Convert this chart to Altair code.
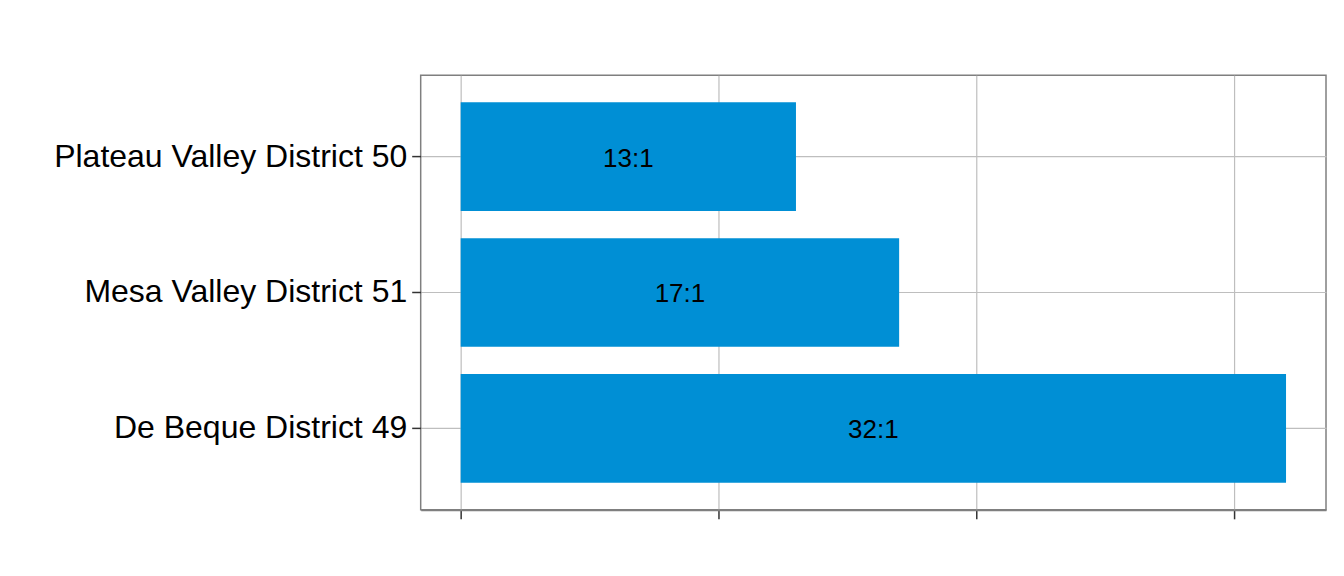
import altair as alt
import pandas as pd

districts = ["Plateau Valley District 50", "Mesa Valley District 51", "De Beque District 49"]
ratios = [13, 17, 32]
labels = ["13:1", "17:1", "32:1"]

df = pd.DataFrame({"district": districts, "ratio": ratios, "label": labels})
df["mid"] = df["ratio"] / 2

y_enc = alt.Y("district:N", sort=districts, title=None,
              scale=alt.Scale(paddingInner=0.2, paddingOuter=0.2),
              axis=alt.Axis(labelFontSize=32, labelColor="black", labelFont="Liberation Sans",
                            labelLimit=0, tickColor="#333333", tickWidth=1.5, tickSize=9,
                            labelPadding=5, domain=False, gridColor="#bebebe",
                            gridWidth=1.2, grid=True))
x_scale = alt.Scale(domain=[-1.55, 33.55], nice=False, zero=False)

bars = alt.Chart(df).mark_bar(color="#008FD5").encode(
    x=alt.X("ratio:Q", scale=x_scale, title=None,
            axis=alt.Axis(values=[0, 10, 20, 30], labels=False, tickColor="#333333",
                          tickWidth=1.5, tickSize=9, domainColor="#7f7f7f", domainWidth=2,
                          gridColor="#bebebe", gridWidth=1.2)),
    x2=alt.datum(0),
    y=y_enc,
)

text = alt.Chart(df).mark_text(fontSize=26, font="Liberation Sans", color="black",
                               baseline="middle", align="center", dy=2).encode(
    x=alt.X("mid:Q", scale=x_scale),
    y=alt.Y("district:N", sort=districts),
    text="label:N",
)

chart = (bars + text).properties(
    width=906, height=435,
    autosize=alt.AutoSizeParams(type="none"),
    padding={"left": 413, "top": 67, "right": 10, "bottom": 40},
    view=alt.ViewBackground(stroke="#7f7f7f", strokeWidth=1.5),
).configure_view(stroke="#7f7f7f", strokeWidth=1.5).configure(background="white")

chart.save("out.html", embed_options={"renderer": "svg", "actions": False})
